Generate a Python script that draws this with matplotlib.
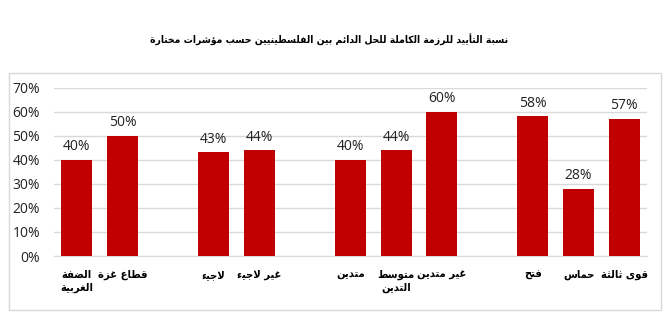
import matplotlib
matplotlib.use("Agg")
import matplotlib.pyplot as plt
from matplotlib.patches import Rectangle
from matplotlib.ticker import PercentFormatter

title = "نسبة التأييد للرزمة الكاملة للحل الدائم بين الفلسطينيين حسب مؤشرات مختارة"
groups = [
    ["الضفة\nالغربية", "قطاع غزة"],
    ["لاجيء", "غير لاجيء"],
    ["متدين", "متوسط\nالتدين", "غير متدين"],
    ["فتح", "حماس", "قوى ثالثة"],
]
values = [40, 50, 43, 44, 40, 44, 60, 58, 28, 57]

# matplotlib does no Arabic shaping, so pick presentation forms by hand
letters = "ءآأؤإئابةتثجحخدذرزسشصضطظعغفقكلمنهوىي"
nforms = [1, 2, 2, 2, 2, 4, 2, 4, 2, 4, 4, 4, 4, 4, 2, 2, 2, 2,
          4, 4, 4, 4, 4, 4, 4, 4, 4, 4, 4, 4, 4, 4, 4, 2, 2, 4]
forms = {}
code = 0xFE80
for ch, n in zip(letters, nforms):
    forms[ch] = (code, n)
    code += n
lamalef = {"آ": 0xFEF5, "أ": 0xFEF7, "إ": 0xFEF9, "ا": 0xFEFB}


def shape(line):
    out = []
    i = 0
    while i < len(line):
        ch = line[i]
        if ch not in forms:
            out.append(ch)
            i += 1
            continue
        prev = line[i - 1] if i > 0 else ""
        joins_prev = prev in forms and forms[prev][1] == 4
        if ch == "ل" and i + 1 < len(line) and line[i + 1] in lamalef:
            out.append(chr(lamalef[line[i + 1]] + (1 if joins_prev else 0)))
            i += 2
            continue
        start, n = forms[ch]
        nxt = line[i + 1] if i + 1 < len(line) else ""
        joins_next = n == 4 and nxt in forms
        if n == 1:
            idx = 0
        elif joins_prev and joins_next:
            idx = 3
        elif joins_next:
            idx = 2
        elif joins_prev:
            idx = 1
        else:
            idx = 0
        out.append(chr(start + idx))
        i += 1
    return "".join(out)[::-1]


def ar(text):
    return "\n".join(shape(l) for l in text.split("\n"))


labels = []
xs = []
pos = 0
for g in groups:
    for c in g:
        labels.append(c)
        xs.append(pos)
        pos += 1
    pos += 1

fig = plt.figure(figsize=(6.72, 3.2), dpi=100)
fig.patches.append(Rectangle((9 / 672, 1 - 310 / 320), 652 / 672, 237 / 320,
                             transform=fig.transFigure, fill=False,
                             edgecolor="#d9d9d9", linewidth=1))
ax = fig.add_axes([54 / 672, 64 / 320, 593 / 672, 168.5 / 320])

bars = ax.bar(xs, [v / 100 for v in values], width=0.68, color="#c00000", zorder=3)
for x, v in zip(xs, values):
    ax.annotate(f"{v}%", (x, v / 100), xytext=(0, 4), textcoords="offset points",
                ha="center", va="bottom", fontsize=10, family="Open Sans", color="#222222")

ax.set_xlim(-0.5, pos - 1.5)
ax.set_ylim(0, 0.7)
ax.set_yticks([i / 10 for i in range(8)])
ax.yaxis.set_major_formatter(PercentFormatter(1.0, decimals=0))
ax.grid(axis="y", color="#d9d9d9", linewidth=1, zorder=0)
for s in ["left", "right", "top"]:
    ax.spines[s].set_visible(False)
ax.spines["bottom"].set_color("#d9d9d9")
ax.tick_params(length=0)
ax.tick_params(axis="y", labelsize=10, labelcolor="#222222", pad=10)
for t in ax.get_yticklabels():
    t.set_family("Open Sans")

ax.set_xticks(xs)
ax.set_xticklabels([ar(l) for l in labels], fontsize=8, fontweight="bold",
                   family="DejaVu Sans", fontstretch="condensed", linespacing=1.3)
ax.tick_params(axis="x", pad=10)

fig.text(329 / 672, 1 - 40 / 320, ar(title), ha="center", va="center",
         fontsize=7.4, fontweight="bold", family="DejaVu Sans", fontstretch="condensed")

fig.savefig("out.png", dpi=100)
